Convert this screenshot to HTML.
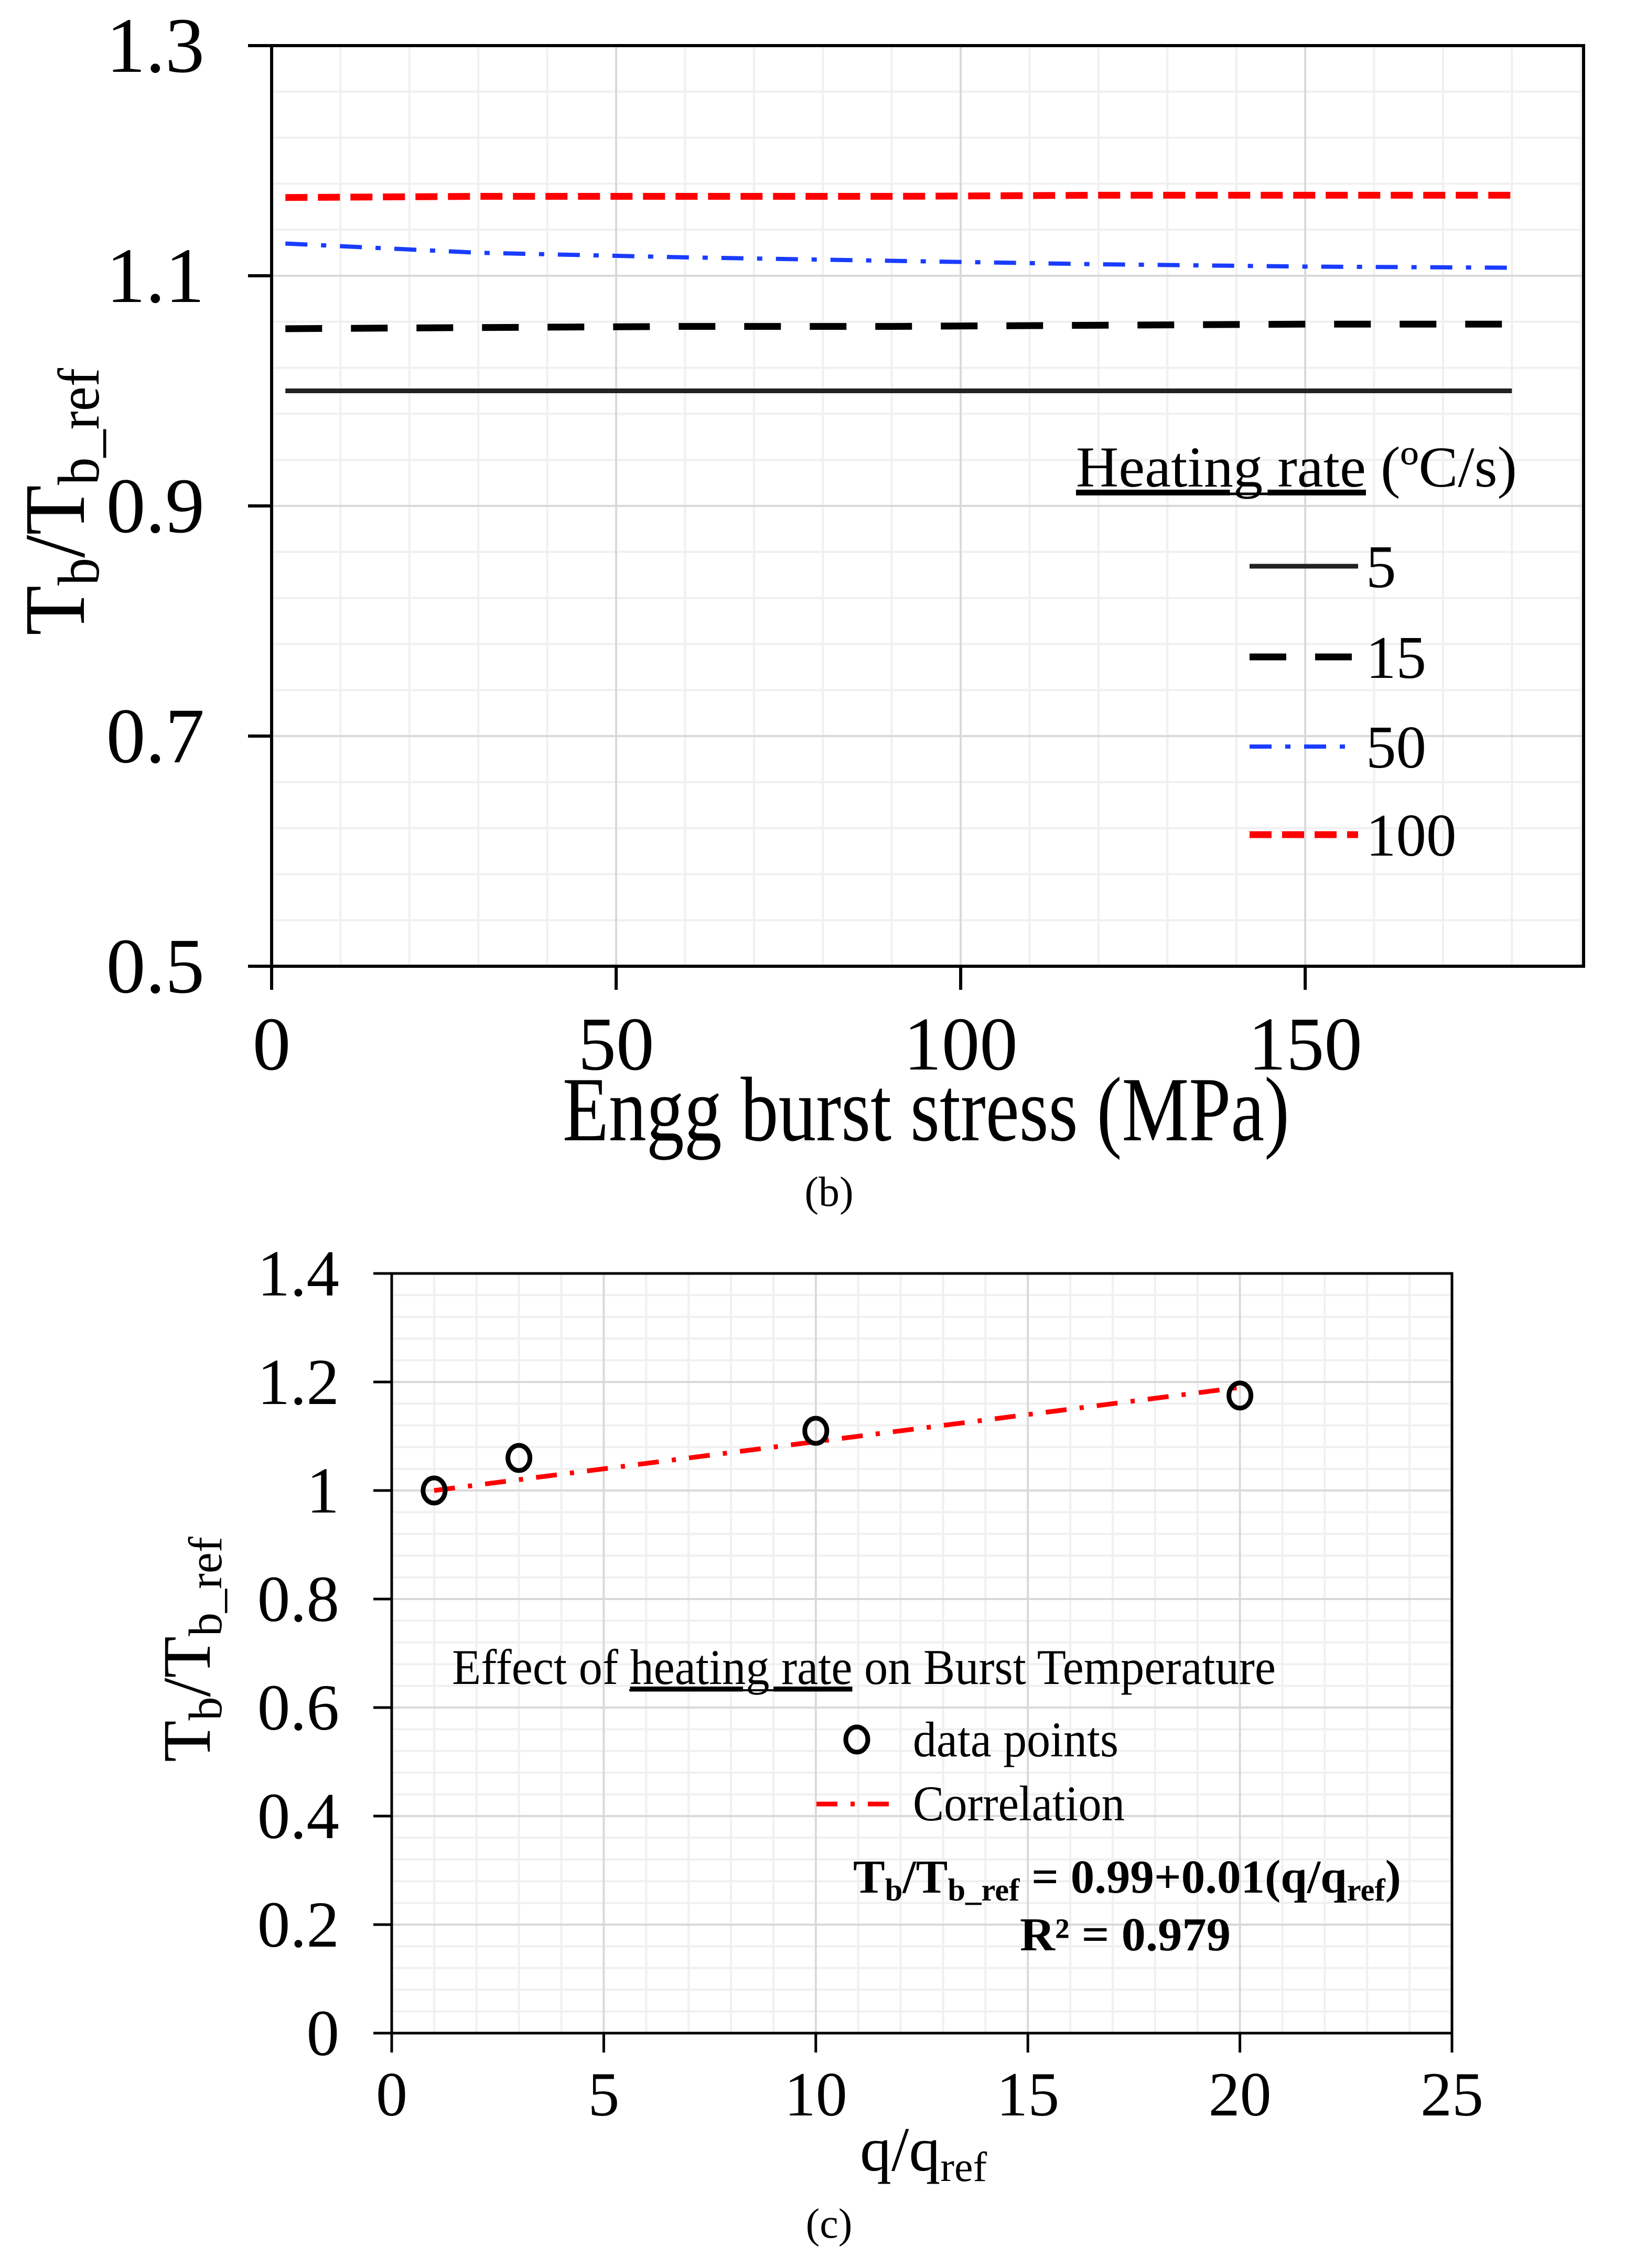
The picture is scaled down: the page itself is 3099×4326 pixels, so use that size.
<!DOCTYPE html>
<html><head><meta charset="utf-8"><style>
html,body{margin:0;padding:0;background:#fff;}
svg{display:block;font-family:"Liberation Serif",serif;}
</style></head><body>
<svg id="svg" width="3099" height="4326" viewBox="0 0 3099 4326" xmlns="http://www.w3.org/2000/svg">
<rect width="3099" height="4326" fill="#fff"/>
<g id="chartB"></g>
<g id="chartC"></g>

<!-- chart b texts -->
<text x="1766" y="2175" font-size="175" text-anchor="middle" textLength="1386" lengthAdjust="spacingAndGlyphs">Engg burst stress (MPa)</text>
<text transform="translate(160,1212) rotate(-90)" font-size="165" textLength="510" lengthAdjust="spacingAndGlyphs">T<tspan font-size="112" dy="28">b</tspan><tspan dy="-28">/T</tspan><tspan font-size="112" dy="28">b_ref</tspan></text>
<text x="1581" y="2300" font-size="80" text-anchor="middle">(b)</text>
<g>
<text x="2052" y="928" font-size="110" textLength="841" lengthAdjust="spacingAndGlyphs"><tspan text-decoration="underline">Heating  rate</tspan> (ºC/s)</text>
<line x1="2052" y1="942" x2="2595" y2="942" stroke="#000" stroke-width="5"/>
</g>

<!-- chart c texts -->
<text x="1640" y="4140" font-size="120">q/q<tspan font-size="80" dy="20">ref</tspan></text>
<text transform="translate(400,3361) rotate(-90)" font-size="130">T<tspan font-size="90" dy="22">b</tspan><tspan dy="-22">/T</tspan><tspan font-size="90" dy="22">b_ref</tspan></text>
<text x="1581" y="4268" font-size="80" text-anchor="middle">(c)</text>
<text x="862" y="3212" font-size="95" textLength="1571" lengthAdjust="spacingAndGlyphs">Effect of <tspan text-decoration="underline">heating  rate</tspan> on Burst Temperature</text>
<line x1="1200" y1="3224" x2="1622" y2="3224" stroke="#000" stroke-width="4"/>
<text x="1741" y="3350" font-size="95" textLength="392" lengthAdjust="spacingAndGlyphs">data points</text>
<text x="1741" y="3472" font-size="95" textLength="404" lengthAdjust="spacingAndGlyphs">Correlation</text>
<text x="1627" y="3610" font-size="90" font-weight="bold" textLength="1045" lengthAdjust="spacingAndGlyphs">T<tspan font-size="60" dy="15">b</tspan><tspan dy="-15">/T</tspan><tspan font-size="60" dy="15">b_ref</tspan><tspan dy="-15"> = 0.99+0.01(q/q</tspan><tspan font-size="60" dy="15">ref</tspan><tspan dy="-15">)</tspan></text>
<text x="1945" y="3720" font-size="90" font-weight="bold" textLength="402" lengthAdjust="spacingAndGlyphs">R² = 0.979</text>
</svg>
<script>
// ---- chart b data ----
const bXTicks = [0, 50, 100, 150];
const bYTicks = [0.5, 0.7, 0.9, 1.1, 1.3];
const bYTickLabels = ["0.5", "0.7", "0.9", "1.1", "1.3"];
const bSeriesNames = ["5", "15", "50", "100"];
const bStress = [2, 30, 60, 90, 120, 150, 180];
const bRate5 = [1.0, 1.0, 1.0, 1.0, 1.0, 1.0, 1.0];
const bRate15 = [1.054, 1.055, 1.056, 1.056, 1.057, 1.058, 1.058];
const bRate50 = [1.128, 1.120, 1.116, 1.113, 1.110, 1.108, 1.107];
const bRate100 = [1.168, 1.169, 1.169, 1.169, 1.17, 1.17, 1.17];
// ---- chart c data ----
const cXTicks = [0, 5, 10, 15, 20, 25];
const cYTicks = [0, 0.2, 0.4, 0.6, 0.8, 1.0, 1.2, 1.4];
const cYTickLabels = ["0", "0.2", "0.4", "0.6", "0.8", "1", "1.2", "1.4"];
const cQ = [1, 3, 10, 20];
const cT = [1.0, 1.06, 1.11, 1.175];
const cCorrX = [1, 20];
const cCorrIntercept = 0.99;
const cCorrSlope = 0.01;

const NS = "http://www.w3.org/2000/svg";
function mk(parent, tag, attrs, text){
  const e = document.createElementNS(NS, tag);
  for (const k in attrs) e.setAttribute(k, attrs[k]);
  if (text !== undefined) e.textContent = text;
  parent.appendChild(e);
  return e;
}

// ---- chart b ----
(function(){
  const g = document.getElementById('chartB');
  const L=518, R=3020, T=87, B=1843, xMin=0, xMax=190.4, yMin=0.5, yMax=1.3;
  const sx = v => L + (v-xMin)/(xMax-xMin)*(R-L);
  const sy = v => B - (v-yMin)/(yMax-yMin)*(B-T);
  for (let v=10; v<xMax; v+=10){ if (v%50===0) continue;
    const l = mk(g,'line',{x1:sx(v),x2:sx(v),y1:T,y2:B,stroke:'#f0f0f0','stroke-width':4});
      }
  for (let i=1;i<20;i++){ const v=yMin+i*0.04; if (i%5===0) continue;
    const l = mk(g,'line',{x1:L,x2:R,y1:sy(v),y2:sy(v),stroke:'#f0f0f0','stroke-width':4});
      }
  bXTicks.forEach(v=>{
    if (v>0){ const l=mk(g,'line',{x1:sx(v),x2:sx(v),y1:T,y2:B,stroke:'#d9d9d9','stroke-width':4});
        }
    const t=mk(g,'line',{x1:sx(v),x2:sx(v),y1:B,y2:B+45,stroke:'#000','stroke-width':6});
     
    const tx=mk(g,'text',{x:sx(v),y:2040,'font-size':145,'text-anchor':'middle'},String(v));
     
  });
  bYTicks.forEach((v,i)=>{
    const l=mk(g,'line',{x1:L,x2:R,y1:sy(v),y2:sy(v),stroke:'#d9d9d9','stroke-width':4});
     
    const t=mk(g,'line',{x1:L-45,x2:L,y1:sy(v),y2:sy(v),stroke:'#000','stroke-width':6});
     
    const tx=mk(g,'text',{x:390,y:sy(v)+50,'font-size':150,'text-anchor':'end'},bYTickLabels[i]);
     
  });
  const frame=mk(g,'rect',{x:L,y:T,width:R-L,height:B-T,fill:'none',stroke:'#000','stroke-width':6});
   
  const styles = [
    {c:'#222', w:9, d:''},
    {c:'#000', w:13, d:'70 55'},
    {c:'#1a3cff', w:8, d:'42 26 10 26'},
    {c:'#ff0000', w:13, d:'42 20'}
  ];
  const data=[bRate5,bRate15,bRate50,bRate100];
  const legY=[1080,1253,1424,1592];
  data.forEach((arr,si)=>{
    const pts = arr.map((v,i)=>sx(bStress[i])+','+sy(v)).join(' ');
    const p=mk(g,'polyline',{points:pts,fill:'none',stroke:styles[si].c,'stroke-width':styles[si].w,'stroke-dasharray':styles[si].d});
     
    const ll=mk(g,'line',{x1:2383,x2:2590,y1:legY[si],y2:legY[si],stroke:styles[si].c,'stroke-width':styles[si].w,'stroke-dasharray':styles[si].d});
     
    const lt=mk(g,'text',{x:2605,y:legY[si]+40,'font-size':115},bSeriesNames[si]);
     
  });
})();

// ---- chart c ----
(function(){
  const g = document.getElementById('chartC');
  const L=747, R=2769, T=2429, B=3878, xMin=0, xMax=25, yMin=0, yMax=1.4;
  const sx = v => L + (v-xMin)/(xMax-xMin)*(R-L);
  const sy = v => B - (v-yMin)/(yMax-yMin)*(B-T);
  for (let v=1; v<xMax; v++){ if (v%5===0) continue;
    const l=mk(g,'line',{x1:sx(v),x2:sx(v),y1:T,y2:B,stroke:'#f0f0f0','stroke-width':4});
      }
  for (let i=1;i<35;i++){ if (i%5===0) continue; const v=i*0.04;
    const l=mk(g,'line',{x1:L,x2:R,y1:sy(v),y2:sy(v),stroke:'#f0f0f0','stroke-width':4});
      }
  cXTicks.forEach(v=>{
    if (v>0 && v<xMax){ const l=mk(g,'line',{x1:sx(v),x2:sx(v),y1:T,y2:B,stroke:'#d9d9d9','stroke-width':4});
        }
    const t=mk(g,'line',{x1:sx(v),x2:sx(v),y1:B,y2:B+37,stroke:'#000','stroke-width':5});
     
    const tx=mk(g,'text',{x:sx(v),y:4035,'font-size':120,'text-anchor':'middle'},String(v));
     
  });
  cYTicks.forEach((v,i)=>{
    if (v>0){ const l=mk(g,'line',{x1:L,x2:R,y1:sy(v),y2:sy(v),stroke:'#d9d9d9','stroke-width':4});
        }
    const t=mk(g,'line',{x1:L-35,x2:L,y1:sy(v),y2:sy(v),stroke:'#000','stroke-width':5});
     
    const tx=mk(g,'text',{x:647,y:sy(v)+42,'font-size':125,'text-anchor':'end'},cYTickLabels[i]);
     
  });
  const frame=mk(g,'rect',{x:L,y:T,width:R-L,height:B-T,fill:'none',stroke:'#000','stroke-width':5});
   
  const corr=mk(g,'line',{x1:sx(cCorrX[0]),y1:sy(cCorrIntercept+cCorrSlope*cCorrX[0]),x2:sx(cCorrX[1]),y2:sy(cCorrIntercept+cCorrSlope*cCorrX[1]),stroke:'#ff0000','stroke-width':9,'stroke-dasharray':'40 25 8 25'});
   
  cQ.forEach((q,i)=>{
    const c=mk(g,'ellipse',{cx:sx(q),cy:sy(cT[i]),rx:21,ry:24,fill:'none',stroke:'#000','stroke-width':9});
     
  });
  const lc=mk(g,'ellipse',{cx:1634,cy:3318,rx:21,ry:24,fill:'none',stroke:'#000','stroke-width':9});
   
  const ll=mk(g,'line',{x1:1557,x2:1703,y1:3441,y2:3441,stroke:'#ff0000','stroke-width':9,'stroke-dasharray':'40 25 8 25'});
   
})();
</script>
</body></html>
